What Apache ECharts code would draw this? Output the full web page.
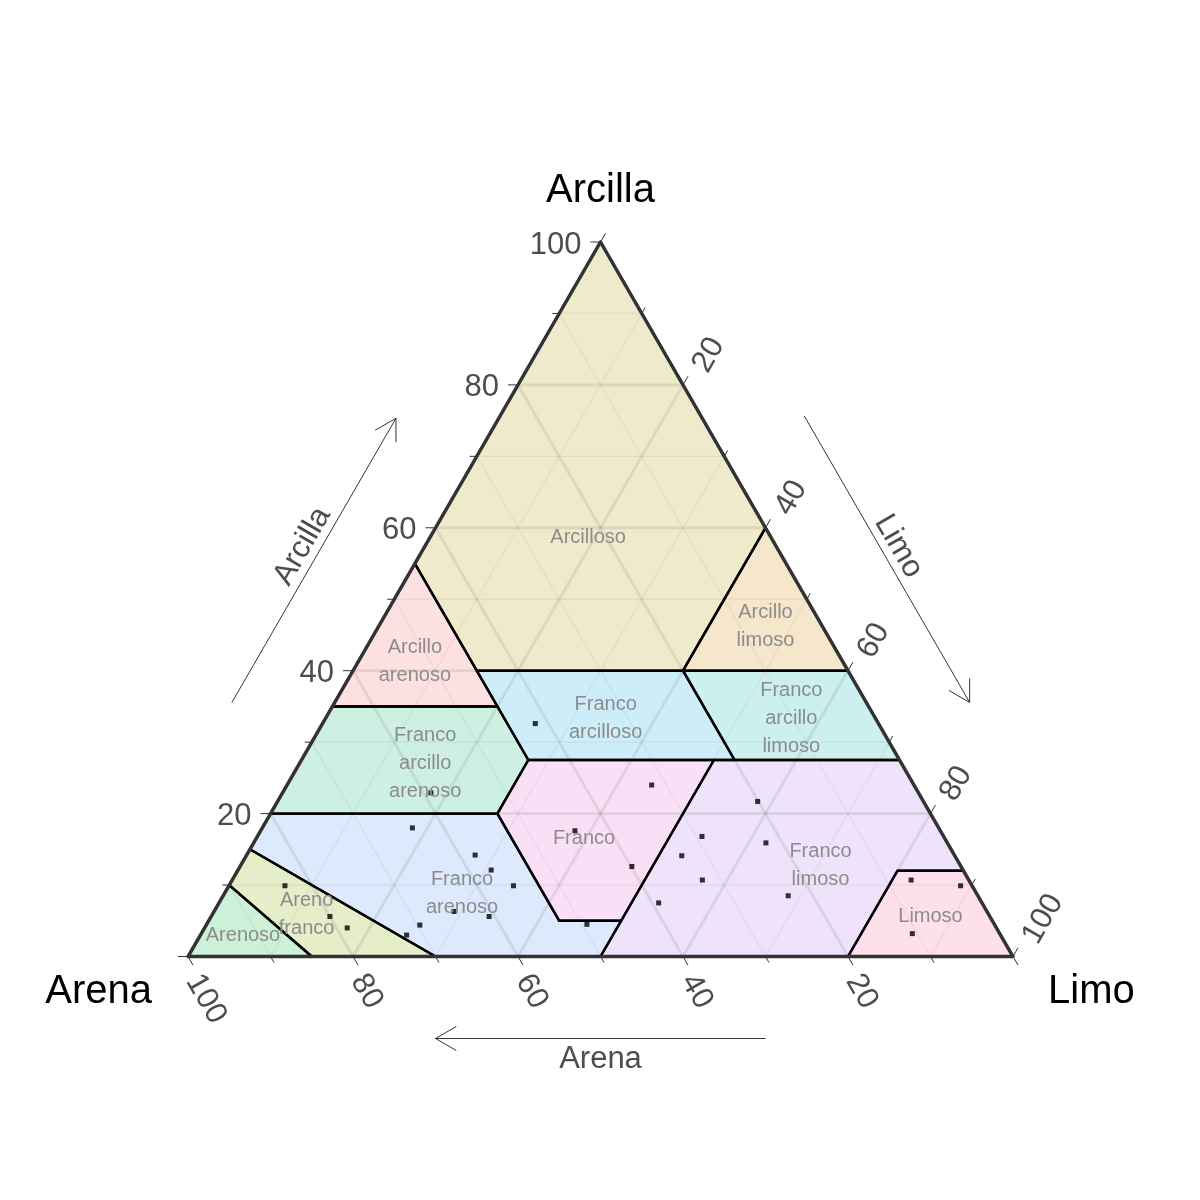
<!DOCTYPE html>
<html><head><meta charset="utf-8">
<script src="https://cdn.jsdelivr.net/npm/echarts@6/dist/echarts.min.js"></script>
<style>html,body{margin:0;padding:0;background:#fff}#c{width:1200px;height:1200px}</style>
</head><body><div id="c"></div>
<script>
// Ternary triplets are [arena, limo, arcilla] (percent)
const regionNames = ['Arenoso','Areno\nfranco','Franco\narenoso','Franco\narcillo\narenoso','Arcillo\narenoso',
  'Arcilloso','Arcillo\nlimoso','Franco\narcilloso','Franco\narcillo\nlimoso','Franco','Franco\nlimoso','Limoso'];
const arenoso = [[100,0,0],[85,15,0],[90,0,10]];
const arenoFranco = [[90,0,10],[85,0,15],[70,30,0],[85,15,0]];
const francoArenoso = [[85,0,15],[80,0,20],[52.5,27.5,20],[52.5,42.5,5],[45,50,5],[50,50,0],[70,30,0]];
const francoArcilloArenoso = [[80,0,20],[65,0,35],[45,20,35],[45,27.5,27.5],[52.5,27.5,20]];
const arcilloArenoso = [[65,0,35],[45,0,55],[45,20,35]];
const arcilloso = [[45,0,55],[0,0,100],[0,40,60],[20,40,40],[45,15,40]];
const arcilloLimoso = [[0,40,60],[0,60,40],[20,40,40]];
const francoArcilloso = [[45,15,40],[20,40,40],[20,52.5,27.5],[45,27.5,27.5]];
const francoArcilloLimoso = [[20,40,40],[0,60,40],[0,72.5,27.5],[20,52.5,27.5]];
const franco = [[45,27.5,27.5],[22.5,50,27.5],[45,50,5],[52.5,42.5,5],[52.5,27.5,20]];
const francoLimoso = [[22.5,50,27.5],[0,72.5,27.5],[0,88,12],[8,80,12],[20,80,0],[50,50,0]];
const limoso = [[20,80,0],[8,80,12],[0,88,12],[0,100,0]];
const regions = [arenoso, arenoFranco, francoArenoso, francoArcilloArenoso, arcilloArenoso,
  arcilloso, arcilloLimoso, francoArcilloso, francoArcilloLimoso, franco, francoLimoso, limoso];

// Sample points
const arena   = [41.6,31.8,20.1,59.1,63.8,44.3,29.3,22.0,58.1,33.1,57.2,39.9,55.6,32.3,83.3,7.0,1.4,23.0,39.2,80.0,64.6,60.7,78.7,69.7,72.0,49.4,10.6];
const limo    = [25.8,44.2,58.2,18.0,18.2,38.1,53.9,62.1,27.7,52.8,30.7,47.5,34.5,57.0,6.8,82.3,88.7,68.5,53.3,14.4,29.1,33.7,17.3,25.9,25.0,46.1,86.2];
const arcilla = [32.6,24.0,21.7,22.9,18.0,17.6,16.8,15.9,14.2,14.1,12.1,12.6,9.9,10.7,9.9,10.7,9.9,8.5,7.5,5.6,6.3,5.6,4.0,4.4,3.0,4.5,3.2];

const tickValues = [0,10,20,30,40,50,60,70,80,90,100];
const labelValues = [20,40,60,80,100];

// styles
const regionColors = ['#CDF0D9','#E5EDC9','#DDE9FC','#CEF0E2','#FDE1E1','#F0EACC','#F6E7CC','#CDEEF9','#CBF0EF','#FAE0F7','#EFE3FC','#FDE0EB'];
const FONT = '"Liberation Sans", Arial, sans-serif';
const DY = 3; // vertical nudge for text

const SQ = Math.sqrt(3) / 2;
function toXY(p) { return [p[1] + p[2] / 2, p[2] * SQ]; }

const chart = echarts.init(document.getElementById('c'), null, {renderer: 'canvas'});

function gridLineEnds(f, v) {
  if (f === 0) return [[100 - v, 0, v], [0, 100 - v, v]];
  if (f === 1) return [[100 - v, v, 0], [0, v, 100 - v]];
  return [[v, 100 - v, 0], [v, 0, 100 - v]];
}
const gridData = [];
for (let f = 0; f < 3; f++) for (let v = 10; v <= 90; v += 10) gridData.push([f, v]);
const tickData = [];
for (let a = 0; a < 3; a++) tickValues.forEach(v => tickData.push([a, v]));

function centroid(poly) {
  let s = 0, t = 0, c = 0;
  poly.forEach(p => { s += p[0]; t += p[1]; c += p[2]; });
  return [s / poly.length, t / poly.length, c / poly.length];
}

function add(P, v, k) { return [P[0] + v[0] * k, P[1] + v[1] * k]; }
function arrow(P, Q, f0, f1, n, off, group) {
  const d = [Q[0] - P[0], Q[1] - P[1]];
  const len = Math.hypot(d[0], d[1]);
  const u = [d[0] / len, d[1] / len];
  const S = add(add(P, d, f0), n, off);
  const E = add(add(P, d, f1), n, off);
  const style = {stroke: '#333333', lineWidth: 1, fill: null};
  group.push({type: 'line', shape: {x1: S[0], y1: S[1], x2: E[0], y2: E[1]}, style: style});
  const ang = Math.PI / 6;
  [ang, -ang].forEach(a => {
    const r = [-(u[0] * Math.cos(a) - u[1] * Math.sin(a)), -(u[0] * Math.sin(a) + u[1] * Math.cos(a))];
    const H = add(E, r, 24);
    group.push({type: 'line', shape: {x1: E[0], y1: E[1], x2: H[0], y2: H[1]}, style: style});
  });
}

const option = {
  animation: false,
  backgroundColor: '#ffffff',
  grid: {left: 188, top: 242, width: 825, height: 714.5},
  xAxis: {type: 'value', min: 0, max: 100, show: false},
  yAxis: {type: 'value', min: 0, max: 100 * SQ, show: false},
  series: [
    { // region fills
      type: 'custom', coordinateSystem: 'cartesian2d', clip: false, z: 1,
      data: regions.map((r, i) => [i]),
      renderItem: function (params, api) {
        const i = api.value(0);
        return {type: 'polygon', shape: {points: regions[i].map(p => api.coord(toXY(p)))},
          style: {fill: regionColors[i], stroke: null}};
      }
    },
    { // grid lines
      type: 'custom', coordinateSystem: 'cartesian2d', clip: false, z: 2,
      data: gridData,
      renderItem: function (params, api) {
        const f = api.value(0), v = api.value(1);
        const e = gridLineEnds(f, v);
        const a = api.coord(toXY(e[0])), b = api.coord(toXY(e[1]));
        const major = v % 20 === 0;
        return {type: 'line', shape: {x1: a[0], y1: a[1], x2: b[0], y2: b[1]},
          style: {stroke: major ? 'rgba(110,110,110,0.15)' : 'rgba(110,110,110,0.10)', lineWidth: major ? 3 : 1.3}};
      }
    },
    { // region borders
      type: 'custom', coordinateSystem: 'cartesian2d', clip: false, z: 3,
      data: regions.map((r, i) => [i]),
      renderItem: function (params, api) {
        const i = api.value(0);
        return {type: 'polygon', shape: {points: regions[i].map(p => api.coord(toXY(p)))},
          style: {fill: null, stroke: '#000000', lineWidth: 2.4, lineJoin: 'round'}};
      }
    },
    { // frame, axis titles, arrows
      type: 'custom', coordinateSystem: 'cartesian2d', clip: false, z: 4,
      data: [[0]],
      renderItem: function (params, api) {
        const A = api.coord(toXY([100, 0, 0]));
        const L = api.coord(toXY([0, 100, 0]));
        const C = api.coord(toXY([0, 0, 100]));
        const g = [];
        g.push({type: 'polygon', shape: {points: [A, L, C]},
          style: {fill: null, stroke: '#333333', lineWidth: 3.5, lineJoin: 'round'}});
        const nLeft = [-SQ, -0.5], nRight = [SQ, -0.5], nBottom = [0, 1];
        arrow(A, C, 0.293, 0.691, nLeft, 89, g);
        arrow(C, L, 0.306, 0.707, nRight, 89.5, g);
        arrow(L, A, 0.3, 0.7, nBottom, 82, g);
        const txt = (P, text, rot, size, color, align) => ({
          type: 'text', x: P[0], y: P[1], rotation: rot,
          style: {text: text, x: 0, y: 0, fill: color, fontSize: size, fontFamily: FONT,
            align: align || 'center', verticalAlign: 'middle'}});
        const mid = (P, Q, n, off) => add([(P[0] + Q[0]) / 2, (P[1] + Q[1]) / 2], n, off);
        g.push(txt(mid(A, C, nLeft, 106), 'Arcilla', Math.PI / 3, 31, '#4D4D4D'));
        g.push(txt(mid(C, L, nRight, 106), 'Limo', -Math.PI / 3, 31, '#4D4D4D'));
        g.push(txt(mid(L, A, nBottom, 103), 'Arena', 0, 31, '#4D4D4D'));
        g.push(txt([C[0], C[1] - 54 + DY], 'Arcilla', 0, 40, '#000000'));
        g.push(txt([A[0] - 36, A[1] + 32 + DY], 'Arena', 0, 40, '#000000', 'right'));
        g.push(txt([L[0] + 35, L[1] + 32 + DY], 'Limo', 0, 40, '#000000', 'left'));
        return {type: 'group', children: g};
      }
    },
    { // ticks and tick labels
      type: 'custom', coordinateSystem: 'cartesian2d', clip: false, z: 4,
      data: tickData,
      renderItem: function (params, api) {
        const a = api.value(0), v = api.value(1);
        let p, dir, lab, rot, align, off;
        if (a === 0) { p = [100 - v, 0, v]; dir = [-1, 0]; off = [-19, DY]; rot = 0; align = 'right'; }
        else if (a === 1) { p = [0, v, 100 - v]; dir = [0.5, -SQ]; off = [17, -15]; rot = Math.PI / 3; align = 'left'; }
        else { p = [v, 100 - v, 0]; dir = [0.5, SQ]; off = [5, 20]; rot = -Math.PI / 3; align = 'left'; }
        const P = api.coord(toXY(p));
        const major = labelValues.indexOf(v) >= 0 || v === 0;
        const len = major ? 10 : 7;
        const ch = [{type: 'line', shape: {x1: P[0], y1: P[1], x2: P[0] + dir[0] * len, y2: P[1] + dir[1] * len},
          style: {stroke: '#333333', lineWidth: 1}}];
        if (labelValues.indexOf(v) >= 0) {
          ch.push({type: 'text', x: P[0] + off[0], y: P[1] + off[1], rotation: rot,
            style: {text: String(v), x: 0, y: 0, fill: '#4D4D4D', fontSize: 31, fontFamily: FONT,
              align: align, verticalAlign: 'middle'}});
        }
        return {type: 'group', children: ch};
      }
    },
    { // sample points
      type: 'scatter', z: 5, clip: false,
      symbol: 'rect', symbolSize: 5,
      itemStyle: {color: '#000000'},
      data: arena.map((s, i) => toXY([s, limo[i], arcilla[i]]))
    },
    { // region labels
      type: 'custom', coordinateSystem: 'cartesian2d', clip: false, z: 6,
      data: regions.map((r, i) => [i]),
      renderItem: function (params, api) {
        const i = api.value(0);
        const P = api.coord(toXY(centroid(regions[i])));
        return {type: 'text', x: P[0], y: P[1] + DY,
          style: {text: regionNames[i], x: 0, y: 0, fill: '#8C8C8C', fontSize: 20, fontFamily: FONT,
            lineHeight: 28, align: 'center', verticalAlign: 'middle'}};
      }
    }
  ]
};
chart.setOption(option);
</script>
</body></html>
